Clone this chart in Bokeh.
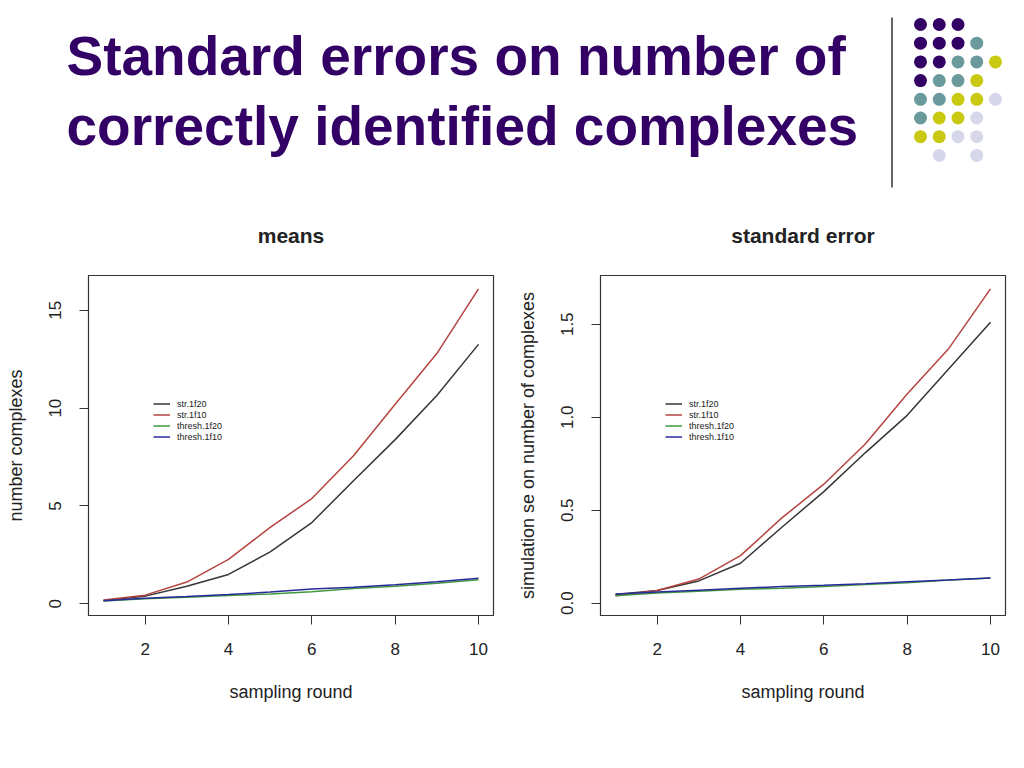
from bokeh.plotting import figure
from bokeh.layouts import column, row
from bokeh.models import Range1d, FixedTicker, Legend, LegendItem
from bokeh.core.properties import value
from bokeh.embed import file_html
from bokeh.resources import INLINE

# ---------------- data ----------------
rounds = [1, 2, 3, 4, 5, 6, 7, 8, 9, 10]
series_names = ["str.1f20", "str.1f10", "thresh.1f20", "thresh.1f10"]

means_str_1f20 = [0.17, 0.39, 0.90, 1.50, 2.65, 4.15, 6.29, 8.39, 10.65, 13.26]
means_str_1f10 = [0.19, 0.44, 1.11, 2.27, 3.90, 5.38, 7.57, 10.20, 12.79, 16.10]
means_thresh_1f20 = [0.14, 0.25, 0.33, 0.42, 0.50, 0.62, 0.78, 0.90, 1.05, 1.23]
means_thresh_1f10 = [0.16, 0.28, 0.37, 0.47, 0.60, 0.75, 0.85, 0.97, 1.12, 1.31]

se_str_1f20 = [0.047, 0.068, 0.120, 0.215, 0.410, 0.600, 0.810, 1.010, 1.260, 1.510]
se_str_1f10 = [0.040, 0.068, 0.130, 0.256, 0.460, 0.640, 0.857, 1.125, 1.370, 1.690]
se_thresh_1f20 = [0.040, 0.055, 0.065, 0.075, 0.080, 0.090, 0.100, 0.110, 0.125, 0.135]
se_thresh_1f10 = [0.050, 0.060, 0.070, 0.080, 0.090, 0.097, 0.105, 0.115, 0.125, 0.136]

x_ticks = [2, 4, 6, 8, 10]
means_y_ticks = [0, 5, 10, 15]
se_y_ticks = [0.0, 0.5, 1.0, 1.5]
se_y_tick_labels = ["0.0", "0.5", "1.0", "1.5"]

slide_title = ["Standard errors on number of", "correctly identified complexes"]

# decorative dot pattern (P purple, T teal, Y yellow, L lavender)
dot_pattern = ["PPP..",
               "PPPT.",
               "PPTTY",
               "PTTY.",
               "TTYYL",
               "TYYL.",
               "YYLL.",
               ".L.L."]
dot_colors = {"P": "#330066", "T": "#6a9a9c", "Y": "#c9c912", "L": "#d7d7ea"}

series_colors = ["#363636", "#b5443f", "#3f9a3f", "#2a2a9a"]

FONT = "Liberation Sans"
TEXT_COL = "#222222"

# ---------------- header ----------------
HEADER_H = 190
header = figure(width=1016, height=HEADER_H, x_range=Range1d(0, 1016), y_range=Range1d(HEADER_H, 0),
                output_backend="svg", toolbar_location=None, x_axis_type=None, y_axis_type=None,
                min_border=0)
header.outline_line_color = None
header.grid.visible = False
header.text(x=[66] * len(slide_title), y=[55 + 70 * i for i in range(len(slide_title))],
            text=slide_title, text_font=value(FONT), text_font_size="55px",
            text_font_style="bold", text_color="#330066", text_baseline="middle",
            text_align="left")
header.segment(x0=[891.5], y0=[17], x1=[891.5], y1=[187], line_color="#333333", line_width=1.5)
dx, dy, x0d, y0d = [], [], 920.0, 24.0
dc = []
for r, line in enumerate(dot_pattern):
    for c, ch in enumerate(line):
        if ch in dot_colors:
            dx.append(x0d + 18.75 * c)
            dy.append(y0d + 18.7 * r)
            dc.append(dot_colors[ch])
header.scatter(x=dx, y=dy, size=13, fill_color=dc, line_color=None)


# ---------------- charts ----------------
def make_chart(title, ylabel, ys, y_range, yticks, ylabels, width, left_border, right_border):
    p = figure(width=width, height=562, x_range=Range1d(0.64, 10.36), y_range=y_range,
               output_backend="svg", toolbar_location=None,
               min_border_left=left_border, min_border_right=right_border,
               min_border_top=85, min_border_bottom=137)
    p.grid.visible = False
    p.outline_line_color = "#333333"
    p.outline_line_width = 1.2
    p.title.text = title
    p.title.text_font = FONT
    p.title.text_font_size = "21px"
    p.title.text_font_style = "bold"
    p.title.text_color = TEXT_COL
    p.title.align = "center"
    p.title.standoff = 58

    for ax in (p.xaxis[0], p.yaxis[0]):
        ax.axis_line_color = "#333333"
        ax.major_tick_line_color = "#333333"
        ax.major_tick_out = 9
        ax.major_tick_in = 0
        ax.minor_tick_line_color = None
        ax.major_label_text_font = FONT
        ax.major_label_text_font_size = "17px"
        ax.major_label_text_color = TEXT_COL
        ax.axis_label_text_font = FONT
        ax.axis_label_text_font_size = "18px"
        ax.axis_label_text_font_style = "normal"
        ax.axis_label_text_color = TEXT_COL

    p.xaxis[0].ticker = FixedTicker(ticks=x_ticks)
    p.xaxis[0].bounds = (min(x_ticks), max(x_ticks))
    p.xaxis[0].axis_label = "sampling round"
    p.xaxis[0].major_label_standoff = 18
    p.xaxis[0].axis_label_standoff = 24

    p.yaxis[0].ticker = FixedTicker(ticks=yticks)
    p.yaxis[0].bounds = (min(yticks), max(yticks))
    p.yaxis[0].major_label_overrides = {t: l for t, l in zip(yticks, ylabels)}
    p.yaxis[0].major_label_orientation = "vertical"
    p.yaxis[0].axis_label = ylabel
    p.yaxis[0].major_label_standoff = 18
    p.yaxis[0].axis_label_standoff = 21

    items = []
    for name, yv, col in zip(series_names, ys, series_colors):
        r = p.line(rounds, yv, line_color=col, line_width=1.5)
        items.append(LegendItem(label=name, renderers=[r]))
    leg = Legend(items=items, location=(65, 173), border_line_color=None,
                 background_fill_alpha=0, padding=0, margin=0, spacing=0,
                 label_height=11, glyph_height=11, glyph_width=17, label_standoff=7,
                 label_text_font=FONT, label_text_font_size="9px", label_text_color=TEXT_COL)
    p.add_layout(leg, "center")
    return p


left = make_chart("means", "number complexes",
                  [means_str_1f20, means_str_1f10, means_thresh_1f20, means_thresh_1f10],
                  Range1d(-0.6, 16.78), means_y_ticks, [str(t) for t in means_y_ticks],
                  510, 88, 17)
right = make_chart("standard error", "simulation se on number of complexes",
                   [se_str_1f20, se_str_1f10, se_thresh_1f20, se_thresh_1f10],
                   Range1d(-0.066, 1.762), se_y_ticks, se_y_tick_labels,
                   506, 90, 11)

layout = column(header, row(left, right))
open("out.html", "w").write(file_html(layout, INLINE))
